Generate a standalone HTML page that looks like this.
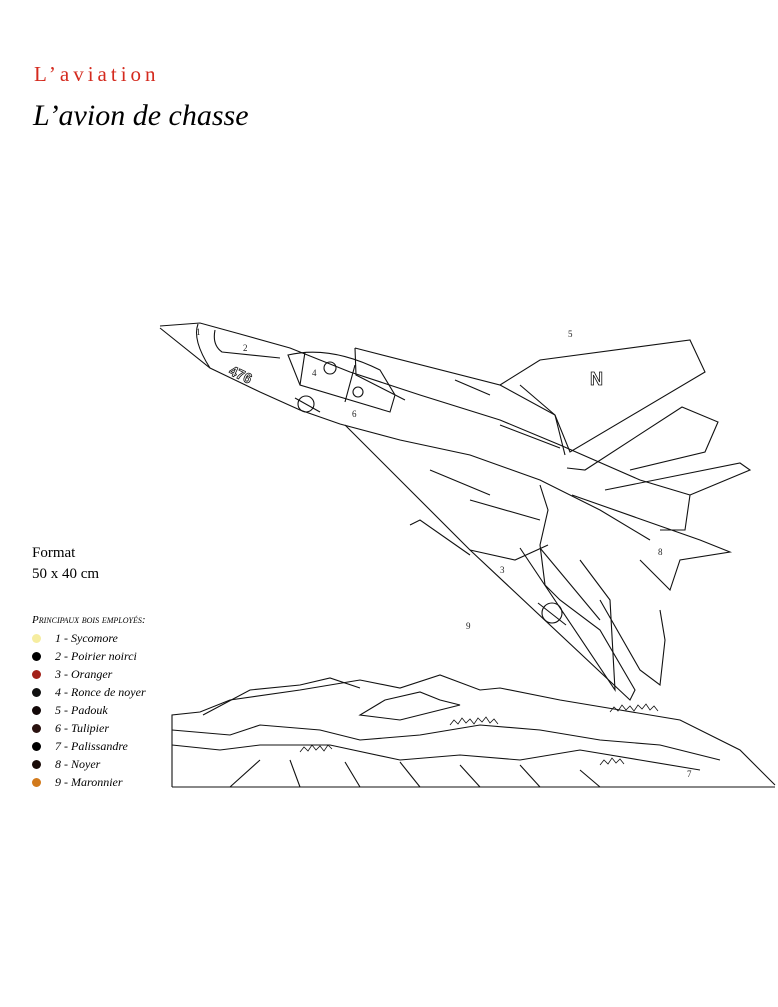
<!DOCTYPE html>
<html><head><meta charset="utf-8"><style>
body{margin:0;background:#fff;width:778px;height:1007px;position:relative;overflow:hidden;font-family:"Liberation Serif",serif}
.t1{position:absolute;left:34px;top:62px;color:#d42a1e;font-size:21px;letter-spacing:4px}
.t2{position:absolute;left:33px;top:99px;font-size:30px;font-style:italic}
.fmt{position:absolute;left:32px;top:543px;font-size:15px;line-height:21px}
.leg{position:absolute;left:32px;top:611px;font-size:12px;font-style:italic}
.leg div{height:18px;line-height:18px;white-space:nowrap}
.leg span{display:inline-block;width:9px;height:9px;border-radius:50%;margin-right:14px;vertical-align:-1px}
svg{position:absolute;left:0;top:0}
</style></head><body>
<div class="t1">L’aviation</div>
<div class="t2">L’avion de chasse</div>
<div class="fmt">Format<br>50 x 40 cm</div>
<div class="leg">
<div style="font-variant:small-caps;font-size:11px">Principaux bois employés:</div>
<div><span style="background:#f6eda0"></span>1 - Sycomore</div>
<div><span style="background:#000"></span>2 - Poirier noirci</div>
<div><span style="background:#a3221a"></span>3 - Oranger</div>
<div><span style="background:#111"></span>4 - Ronce de noyer</div>
<div><span style="background:#120808"></span>5 - Padouk</div>
<div><span style="background:#2a1210"></span>6 - Tulipier</div>
<div><span style="background:#000"></span>7 - Palissandre</div>
<div><span style="background:#1a0c08"></span>8 - Noyer</div>
<div><span style="background:#d27a1c"></span>9 - Maronnier</div>
</div>
<svg width="778" height="1007" viewBox="0 0 778 1007" fill="none" stroke="#111" stroke-width="1.1">
<!-- fuselage -->
<path d="M160,326 L200,323 L240,334 L290,348 L350,372 L420,395 L500,420 L560,445 L640,480 L690,495"/>
<path d="M160,328 L210,368 L260,392 L300,410 L340,424 L400,440 L470,455 L540,480 L600,510 L650,540"/>
<path d="M198,324 Q192,340 210,368"/>
<path d="M215,330 Q212,345 222,352 L280,358"/>
<!-- canopy -->
<path d="M288,355 Q330,345 380,370 L395,395 L390,412 L300,385 Z"/>
<path d="M300,385 L305,352 M355,365 L345,402"/>
<circle cx="330" cy="368" r="6"/><circle cx="358" cy="392" r="5"/>
<circle cx="306" cy="404" r="8"/><path d="M295,398 L320,412"/>
<!-- upper wing -->
<path d="M355,348 L500,385 L540,360 L690,340 L705,372 L570,452 L555,415 L500,385"/>
<path d="M355,348 L356,375 L405,400"/>
<path d="M520,385 L555,415 L565,455"/>
<path d="M567,468 L585,470 L682,407 L718,422 L705,452 L630,470"/>
<path d="M605,490 L740,463 L750,470 L690,495 L685,530 L660,530"/>
<path d="M572,495 L700,540 L730,552 L680,560 L670,590 L640,560"/>
<!-- lower wing -->
<path d="M345,425 L470,550 L630,700 L635,690 L600,630 L560,600 L545,585 L540,545 L548,510 L540,485"/>
<path d="M470,550 L515,560 L548,545"/>
<path d="M540,548 L600,620"/>
<path d="M520,548 L615,690 L610,600 L580,560"/>
<path d="M600,600 L640,670 L660,685 L665,640 L660,610"/>
<path d="M410,525 L420,520 L470,555"/>
<path d="M430,470 L490,495 M470,500 L540,520 M455,380 L490,395 M500,425 L560,448"/>
<circle cx="552" cy="613" r="10"/><path d="M538,603 L566,625"/>
<!-- landscape -->
<path d="M172,787 L775,787 M172,787 L172,715 L200,712 L230,700 L300,690 L360,680 L400,688 L440,675 L480,690 L500,688 L560,700 L620,710 L680,720 L740,750 L775,785"/>
<path d="M203,715 L250,690 L300,685 L330,678 L360,688"/>
<path d="M385,700 L420,692 L440,700 L460,705 L400,720 L360,715 Z"/>
<path d="M172,730 L230,735 L260,725 L320,730 L360,740 L420,735 L480,725 L540,730 L600,740 L660,745 L720,760"/>
<path d="M172,745 L220,750 L260,745 L330,745 L400,760 L460,755 L520,760 L580,750 L640,760 L700,770"/>
<path d="M230,787 L260,760 M300,787 L290,760 M360,787 L345,762 M420,787 L400,762 M480,787 L460,765 M540,787 L520,765 M600,787 L580,770"/>
<path d="M450,725 l4,-5 4,4 4,-6 4,5 4,-4 4,5 4,-6 4,4 4,-5 4,6 4,-4 4,5 M610,712 l4,-5 4,4 4,-6 4,5 4,-4 4,5 4,-6 4,4 4,-5 4,6 4,-4 4,5 M300,752 l4,-5 4,4 4,-6 4,5 4,-4 4,5 4,-6 4,4 M600,765 l4,-5 4,4 4,-6 4,5 4,-4 4,5" stroke-width="0.8"/>
<g font-family="Liberation Serif,serif" font-size="9" fill="#222" stroke="none">
<text x="196" y="335">1</text><text x="243" y="351">2</text><text x="500" y="573">3</text>
<text x="312" y="376">4</text><text x="568" y="337">5</text><text x="352" y="417">6</text>
<text x="687" y="777">7</text><text x="658" y="555">8</text><text x="466" y="629">9</text>
</g>
<g font-family="Liberation Sans,sans-serif" font-size="14" font-weight="bold" fill="none" stroke="#111" stroke-width="0.8">
<text x="228" y="374" transform="rotate(25 228 374)">476</text>
<text x="590" y="385" font-size="18">N</text>
</g>
</svg>
</body></html>
